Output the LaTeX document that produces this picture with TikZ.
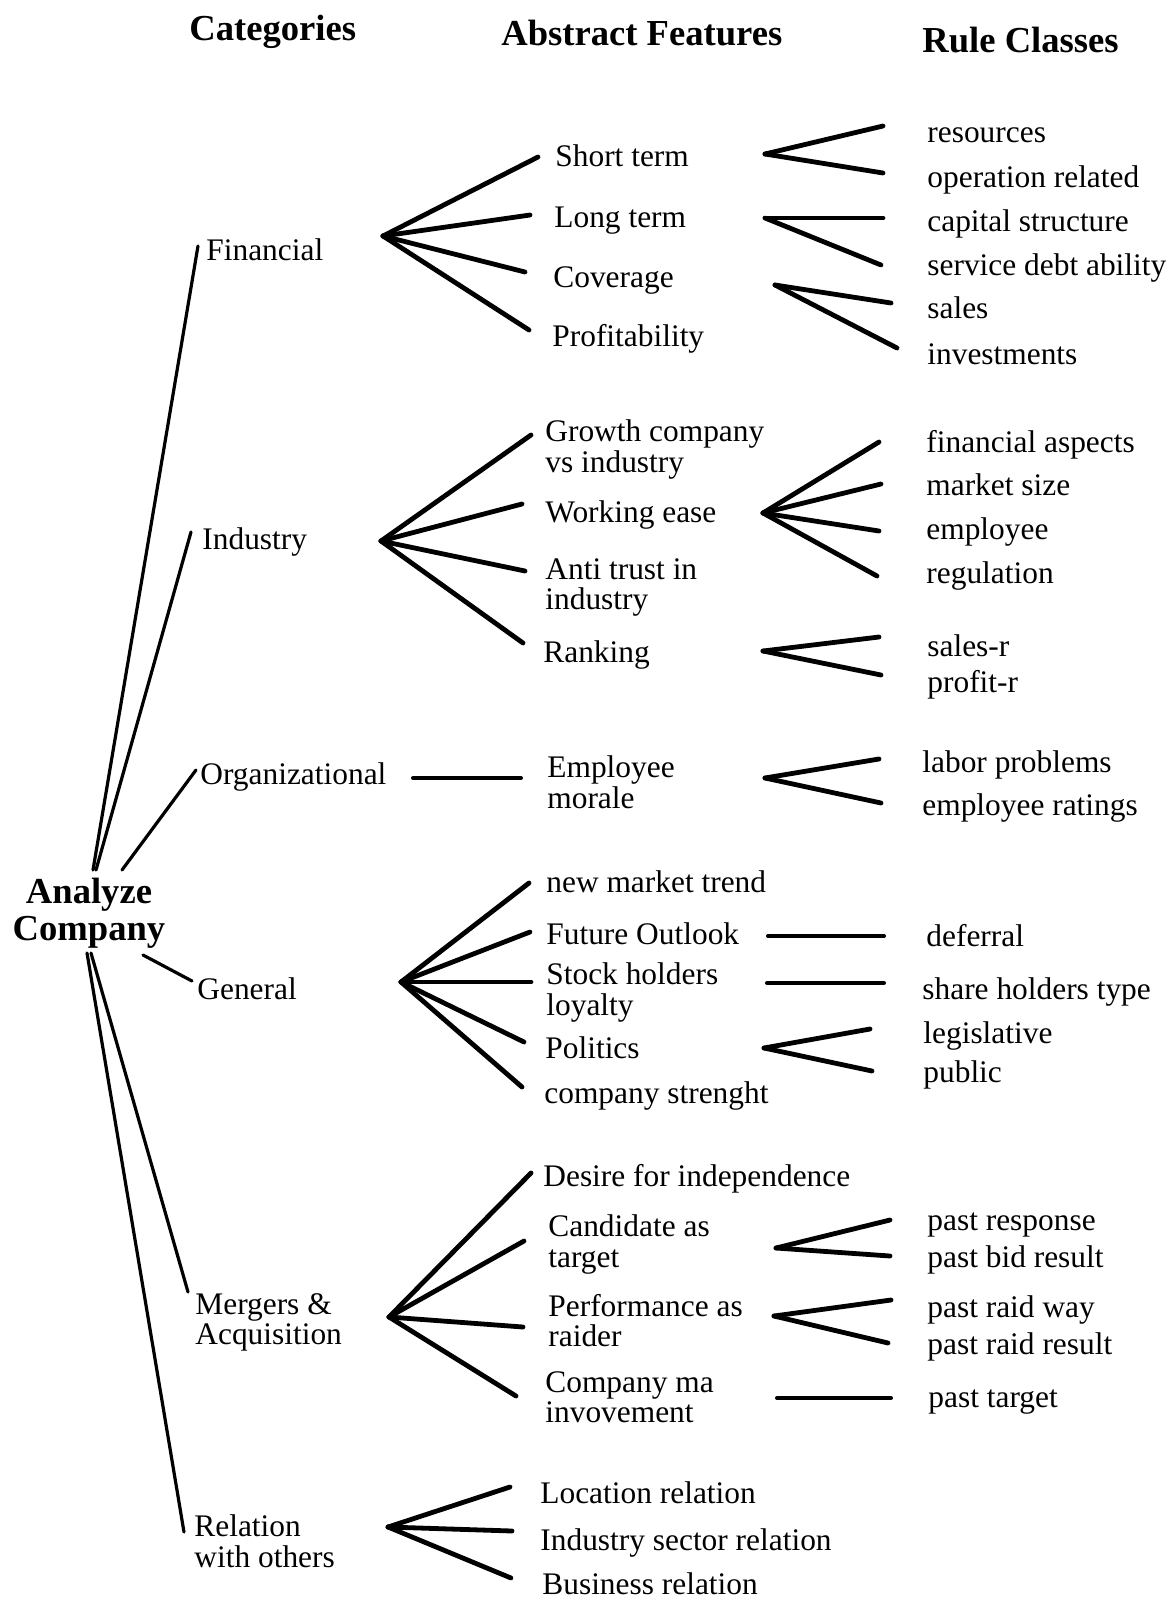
\documentclass[tikz,border=0pt]{standalone}
\usepackage{fontspec}
\setmainfont{Liberation Serif}
\begin{document}
\begin{tikzpicture}[x=0.5pt,y=-0.5pt,
  lbl/.style={anchor=west,inner sep=0pt,text height=0.7em,text depth=0.2em,yshift=-2.5pt,
              font=\fontsize{15.7}{15.3}\selectfont},
  lbltwo/.style={anchor=west,inner sep=0pt,align=left,yshift=-1.2pt,
              font=\fontsize{15.7}{15.3}\selectfont},
  head/.style={anchor=west,inner sep=0pt,text height=0.7em,text depth=0.2em,yshift=-3pt,
              font=\fontsize{18.3}{18.5}\selectfont\bfseries},
  rootbox/.style={inner sep=0pt,align=center,yshift=-1.5pt,font=\fontsize{18.3}{18.5}\selectfont\bfseries},
  trunk/.style={line width=1.6pt,line cap=round},
  fan/.style={line width=2.4pt,line cap=round},
  bar/.style={line width=2pt,line cap=round}]

% page frame
\useasboundingbox (0,0) rectangle (1173,1602);

% column headings
\node[head] (hcat)  at (189,29) {Categories};
\node[head] (habs)  at (501,34) {Abstract Features};
\node[head] (hrule) at (922,41) {Rule Classes};

% root
\node[rootbox] (root) at (89,910) {Analyze\\Company};

% categories
\node[lbl] (fin) at (206,250) {Financial};
\node[lbl] (ind) at (202,539) {Industry};
\node[lbl] (org) at (200,774) {Organizational};
\node[lbl] (gen) at (197,989) {General};
\node[lbltwo] (mer) at (195,1320) {Mergers \&\\Acquisition};
\node[lbltwo] (rel) at (194,1539) {Relation\\with others};

% abstract features
\node[lbl] (st)  at (555,156) {Short term};
\node[lbl] (lt)  at (554,217) {Long term};
\node[lbl] (cov) at (553,277) {Coverage};
\node[lbl] (pro) at (552,336) {Profitability};
\node[lbltwo] (gro) at (545,447) {Growth company\\vs industry};
\node[lbl] (wor) at (545,512) {Working ease};
\node[lbltwo] (ant) at (545,585) {Anti trust in\\industry};
\node[lbl] (ran) at (543,652) {Ranking};
\node[lbltwo] (emp) at (547,780) {Employee\\morale};
\node[lbl] (nmt) at (546,882) {new market trend};
\node[lbl] (fut) at (546,934) {Future Outlook};
\node[lbltwo] (sto) at (546,990) {Stock holders\\loyalty};
\node[lbl] (pol) at (545,1048) {Politics};
\node[lbl] (cst) at (544,1093) {company strenght};
\node[lbl] (des) at (543,1176) {Desire for independence};
\node[lbltwo] (can) at (548,1242) {Candidate as\\target};
\node[lbltwo] (per) at (548,1318) {Performance as\\raider};
\node[lbltwo] (cma) at (545,1395) {Company ma\\invovement};
\node[lbl] (loc) at (540,1493) {Location relation};
\node[lbl] (isr) at (540,1540) {Industry sector relation};
\node[lbl] (bus) at (542,1584) {Business relation};

% rule classes
\node[lbl] (r01) at (927,132)  {resources};
\node[lbl] (r02) at (927,177)  {operation related};
\node[lbl] (r03) at (927,221)  {capital structure};
\node[lbl] (r04) at (927,265)  {service debt ability};
\node[lbl] (r05) at (927,308)  {sales};
\node[lbl] (r06) at (927,354)  {investments};
\node[lbl] (r07) at (926,442)  {financial aspects};
\node[lbl] (r08) at (926,485)  {market size};
\node[lbl] (r09) at (926,529)  {employee};
\node[lbl] (r10) at (926,573)  {regulation};
\node[lbl] (r11) at (927,646)  {sales-r};
\node[lbl] (r12) at (927,682)  {profit-r};
\node[lbl] (r13) at (922,762)  {labor problems};
\node[lbl] (r14) at (922,805)  {employee ratings};
\node[lbl] (r15) at (926,936)  {deferral};
\node[lbl] (r16) at (922,989)  {share holders type};
\node[lbl] (r17) at (923,1033) {legislative};
\node[lbl] (r18) at (923,1072) {public};
\node[lbl] (r19) at (927,1220) {past response};
\node[lbl] (r20) at (927,1257) {past bid result};
\node[lbl] (r21) at (927,1307) {past raid way};
\node[lbl] (r22) at (927,1344) {past raid result};
\node[lbl] (r23) at (928,1397) {past target};

% trunk ends: root side and category side
\foreach \n/\x/\y in {t1/93/870, t2/96/870, t3/122/870, t4/143/955, t5/91/953, t6/87/953,
                      c1/198/246, c2/191/532, c3/196/770, c4/192/981, c5/188/1292, c6/184/1532}
  \coordinate (\n) at (\x,\y);
\foreach \i in {1,...,6} \draw[trunk] (t\i) -- (c\i);

% category fans
\foreach \n/\x/\y in {aF/383/236, aI/381/541, aG/401/982, aM/389/1317, aR/388/1527,
    f1/538/157, f2/530/215, f3/525/272, f4/529/330,
    i1/531/435, i2/522/504, i3/525/571, i4/523/643,
    g1/529/883, g2/530/932, g3/531/982, g4/524/1042, g5/522/1087,
    m1/531/1173, m2/524/1241, m3/523/1327, m4/516/1396,
    q1/510/1487, q2/512/1531, q3/511/1578,
    o1/413/778, o2/521/778}
  \coordinate (\n) at (\x,\y);
\foreach \e in {f1,f2,f3,f4} \draw[fan] (aF) -- (\e);
\foreach \e in {i1,i2,i3,i4} \draw[fan] (aI) -- (\e);
\foreach \e in {g1,g2,g3,g4,g5} \draw[fan] (aG) -- (\e);
\foreach \e in {m1,m2,m3,m4} \draw[fan] (aM) -- (\e);
\foreach \e in {q1,q2,q3} \draw[fan] (aR) -- (\e);
\draw[bar] (o1) -- (o2);

% rule-class fans
\foreach \n/\x/\y in {
    sA/765/154, s1/883/126, s2/883/173,
    lA/765/218, l1/883/218, l2/881/265,
    vA/775/285, v1/891/303, v2/897/348,
    wA/763/513, w1/879/442, w2/881/484, w3/879/531, w4/877/576,
    kA/763/651, k1/879/637, k2/881/675,
    eA/765/778, e1/879/759, e2/881/803,
    uA/768/936, u1/884/936,
    hA/767/983, h1/884/983,
    pA/764/1048, p1/870/1029, p2/872/1071,
    nA/776/1248, n1/890/1220, n2/890/1256,
    dA/774/1316, d1/891/1300, d2/888/1343,
    xA/777/1398, x1/891/1398}
  \coordinate (\n) at (\x,\y);
\foreach \a/\e in {sA/s1,sA/s2,lA/l1,lA/l2,vA/v1,vA/v2,
                   wA/w1,wA/w2,wA/w3,wA/w4,kA/k1,kA/k2,eA/e1,eA/e2,
                   pA/p1,pA/p2,nA/n1,nA/n2,dA/d1,dA/d2}
  \draw[fan] (\a) -- (\e);
\foreach \a/\e in {uA/u1,hA/h1,xA/x1} \draw[bar] (\a) -- (\e);

\end{tikzpicture}
\end{document}
